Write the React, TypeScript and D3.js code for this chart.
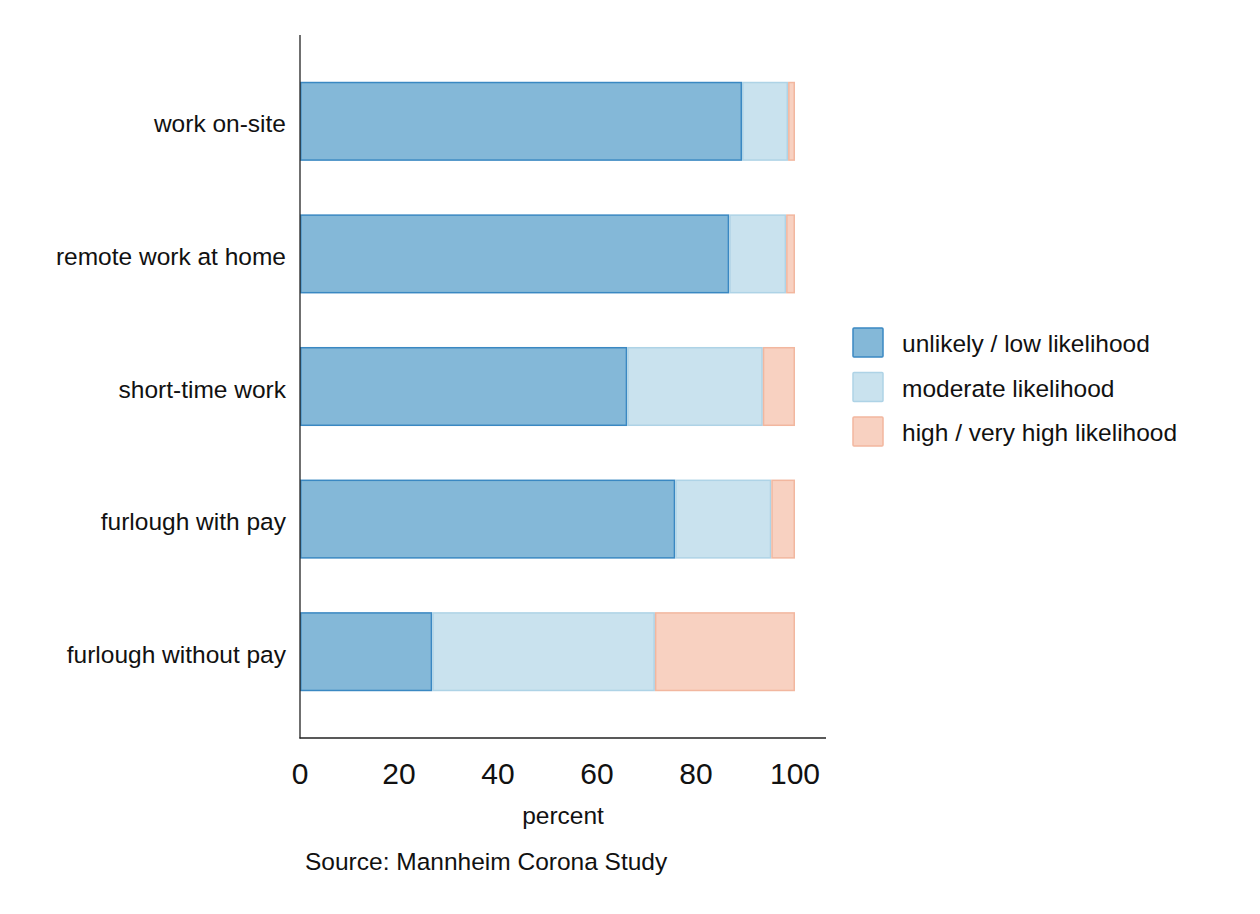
import { useEffect, useRef } from 'react'
import * as d3 from 'd3'

const categories = ['work on-site', 'remote work at home', 'short-time work', 'furlough with pay', 'furlough without pay']
const unlikely = [89.3, 86.7, 66.1, 75.8, 26.7]
const moderate = [9.3, 11.5, 27.4, 19.4, 45.0]
const high = [1.4, 1.8, 6.5, 4.8, 28.3]
const seriesNames = ['unlikely / low likelihood', 'moderate likelihood', 'high / very high likelihood']
const xTicks = [0, 20, 40, 60, 80, 100]

const fills = ['#84b8d8', '#c9e2ee', '#f8d1c1']
const strokes = ['#3a88c2', '#aed3e6', '#f2b79f']
const FONT = '"Liberation Sans", Arial, Helvetica, sans-serif'

export default function App() {
  const ref = useRef<SVGSVGElement | null>(null)

  useEffect(() => {
    const el = ref.current
    if (!el) return
    const svg = d3.select(el)
    svg.selectAll('*').remove()

    const x = d3.scaleLinear().domain([0, 100]).range([300, 795])
    const y = d3.scaleBand<string>().domain(categories).range([56, 717]).paddingInner(0.415).paddingOuter(0.2)

    const rows = categories.map((c, i) => ({ c, v: [unlikely[i], moderate[i], high[i]] }))
    const stack = d3.stack<{ c: string; v: number[] }, number>()
      .keys([0, 1, 2])
      .value((d, k) => d.v[k])
    const layers = stack(rows)

    const g = svg.append('g')
    layers.forEach((layer, k) => {
      g.append('g').selectAll('rect').data(layer).join('rect')
        .attr('x', d => x(d[0]) + 0.75)
        .attr('y', d => (y(d.data.c) ?? 0))
        .attr('width', d => Math.max(0, x(d[1]) - x(d[0]) - 1.5))
        .attr('height', y.bandwidth())
        .attr('fill', fills[k])
        .attr('stroke', strokes[k])
        .attr('stroke-width', 1.5)
    })

    // axes
    svg.append('line').attr('x1', 300).attr('x2', 300).attr('y1', 35).attr('y2', 738.5)
      .attr('stroke', '#222').attr('stroke-width', 1.3)
    svg.append('line').attr('x1', 299.5).attr('x2', 826).attr('y1', 738).attr('y2', 738)
      .attr('stroke', '#222').attr('stroke-width', 1.3)

    svg.append('g').selectAll('text').data(xTicks).join('text')
      .attr('x', d => x(d)).attr('y', 784)
      .attr('text-anchor', 'middle')
      .attr('font-size', 30).attr('font-family', FONT).attr('fill', '#111')
      .text(d => d)

    svg.append('g').selectAll('text').data(categories).join('text')
      .attr('x', 286).attr('y', d => (y(d) ?? 0) + y.bandwidth() / 2 + 11)
      .attr('text-anchor', 'end')
      .attr('font-size', 24.5).attr('font-family', FONT).attr('fill', '#111')
      .text(d => d)

    svg.append('text').attr('x', 563).attr('y', 824).attr('text-anchor', 'middle')
      .attr('font-size', 24.5).attr('font-family', FONT).attr('fill', '#111').text('percent')

    svg.append('text').attr('x', 305).attr('y', 870)
      .attr('font-size', 24.5).attr('font-family', FONT).attr('fill', '#111').text('Source: Mannheim Corona Study')

    // legend
    const lg = svg.append('g').attr('transform', 'translate(852,327)')
    seriesNames.forEach((n, k) => {
      lg.append('rect').attr('x', 1).attr('y', k * 44.5 + 1).attr('width', 30).attr('height', 29)
        .attr('fill', fills[k]).attr('stroke', strokes[k]).attr('stroke-width', 1.5).attr('rx', 1)
      lg.append('text').attr('x', 50).attr('y', k * 44.5 + 25)
        .attr('font-size', 24.5).attr('font-family', FONT).attr('fill', '#111').text(n)
    })
  }, [])

  return <svg ref={ref} width={1260} height={914} style={{ display: 'block', position: 'absolute', left: 0, top: 0 }} />
}
